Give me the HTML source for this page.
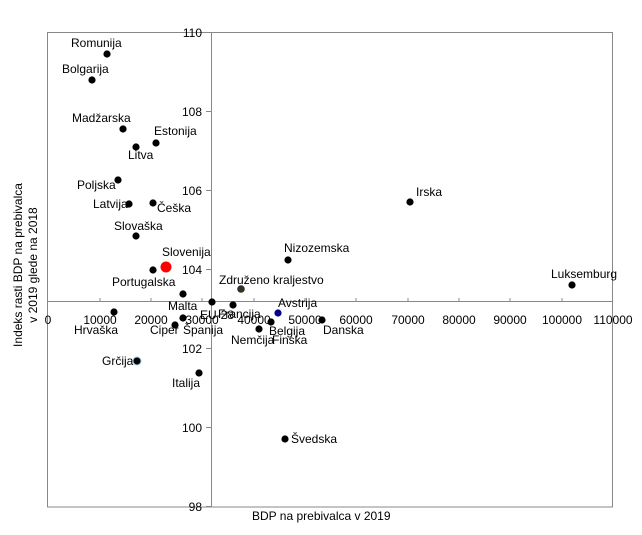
<!DOCTYPE html>
<html><head><meta charset="utf-8"><style>
html,body{margin:0;padding:0;background:#fff;}
svg{display:block;font-family:"Liberation Sans",sans-serif;}
text{font-size:12px;fill:#000;}
</style></head><body>
<svg width="642" height="535" viewBox="0 0 642 535">
<rect x="47.5" y="32.5" width="565" height="474.5" fill="none" stroke="#888" stroke-width="1"/>
<!-- x axis -->
<line x1="47" y1="301.5" x2="612" y2="301.5" stroke="#888"/>
<g stroke="#888">
<line x1="100" y1="298" x2="100" y2="301"/><line x1="151" y1="298" x2="151" y2="301"/><line x1="202" y1="298" x2="202" y2="301"/><line x1="254" y1="298" x2="254" y2="301"/><line x1="305" y1="298" x2="305" y2="301"/><line x1="356" y1="298" x2="356" y2="301"/><line x1="408" y1="298" x2="408" y2="301"/><line x1="459" y1="298" x2="459" y2="301"/><line x1="510" y1="298" x2="510" y2="301"/><line x1="562" y1="298" x2="562" y2="301"/>
</g>
<g text-anchor="middle">
<text x="48" y="324">0</text><text x="100" y="324">10000</text><text x="151" y="324">20000</text><text x="202" y="324">30000</text><text x="254" y="324">40000</text><text x="305" y="324">50000</text><text x="356" y="324">60000</text><text x="408" y="324">70000</text><text x="459" y="324">80000</text><text x="510" y="324">90000</text><text x="562" y="324">100000</text><text x="613" y="324">110000</text>
</g>
<!-- y axis -->
<line x1="211.5" y1="32" x2="211.5" y2="507" stroke="#888"/>
<g stroke="#888">
<line x1="206" y1="32.5" x2="211" y2="32.5"/><line x1="206" y1="111.5" x2="211" y2="111.5"/><line x1="206" y1="190.5" x2="211" y2="190.5"/><line x1="206" y1="269.5" x2="211" y2="269.5"/><line x1="206" y1="348.5" x2="211" y2="348.5"/><line x1="206" y1="427.5" x2="211" y2="427.5"/><line x1="206" y1="506.5" x2="211" y2="506.5"/>
</g>
<g text-anchor="end">
<text x="202" y="37">110</text><text x="202" y="116">108</text><text x="202" y="195">106</text><text x="202" y="274">104</text><text x="202" y="353">102</text><text x="202" y="432">100</text><text x="202" y="511">98</text>
</g>
<text x="252" y="520">BDP na prebivalca v 2019</text>
<text transform="translate(22,265) rotate(-90)" text-anchor="middle">Indeks rasti BDP na prebivalca</text>
<text transform="translate(37,265) rotate(-90)" text-anchor="middle">v 2019 glede na 2018</text>
<!-- points -->
<g fill="#000">
<circle cx="107" cy="54" r="3.6"/><circle cx="92" cy="80" r="3.6"/><circle cx="123" cy="129" r="3.6"/><circle cx="156" cy="143" r="3.6"/><circle cx="136" cy="147" r="3.6"/><circle cx="118" cy="180" r="3.6"/><circle cx="129" cy="204" r="3.6"/><circle cx="153" cy="203" r="3.6"/><circle cx="136" cy="236" r="3.6"/><circle cx="153" cy="270" r="3.6"/><circle cx="183" cy="294" r="3.6"/><circle cx="212" cy="302" r="3.6"/><circle cx="233" cy="305" r="3.6"/><circle cx="288" cy="260" r="3.6"/><circle cx="410" cy="202" r="3.6"/><circle cx="572" cy="285" r="3.6"/><circle cx="114" cy="312" r="3.6"/><circle cx="175" cy="325" r="3.6"/><circle cx="183" cy="318" r="3.6"/><circle cx="271" cy="322" r="3.6"/><circle cx="259" cy="329" r="3.6"/><circle cx="322" cy="320" r="3.6"/><circle cx="199" cy="373" r="3.6"/><circle cx="285" cy="439" r="3.6"/>
</g>
<circle cx="137" cy="361" r="4" fill="#000" stroke="#9cd" stroke-width="1"/>
<circle cx="166" cy="267" r="5.5" fill="#f00"/>
<circle cx="241" cy="289" r="3.8" fill="#332"/>
<circle cx="278" cy="313" r="3.6" fill="#00008b"/>
<!-- labels -->
<text x="71" y="47">Romunija</text>
<text x="62" y="73">Bolgarija</text>
<text x="72" y="122">Madžarska</text>
<text x="154" y="135">Estonija</text>
<text x="128" y="159">Litva</text>
<text x="77" y="189">Poljska</text>
<text x="93" y="208">Latvija</text>
<text x="157" y="212">Češka</text>
<text x="114" y="230">Slovaška</text>
<text x="162" y="256">Slovenija</text>
<text x="112" y="286">Portugalska</text>
<text x="168" y="310">Malta</text>
<text x="200" y="319">EU-28</text>
<text x="218" y="318">Francija</text>
<text x="219" y="284">Združeno kraljestvo</text>
<text x="278" y="307">Avstrija</text>
<text x="284" y="252">Nizozemska</text>
<text x="416" y="196">Irska</text>
<text x="551" y="278">Luksemburg</text>
<text x="74" y="334">Hrvaška</text>
<text x="150" y="334">Ciper</text>
<text x="183" y="334">Španija</text>
<text x="269" y="335">Belgija</text>
<text x="231" y="344">Nemčija</text>
<text x="272" y="344">Finska</text>
<text x="323" y="334">Danska</text>
<text x="102" y="365">Grčija</text>
<text x="172" y="387">Italija</text>
<text x="291" y="443">Švedska</text>
</svg>
</body></html>
